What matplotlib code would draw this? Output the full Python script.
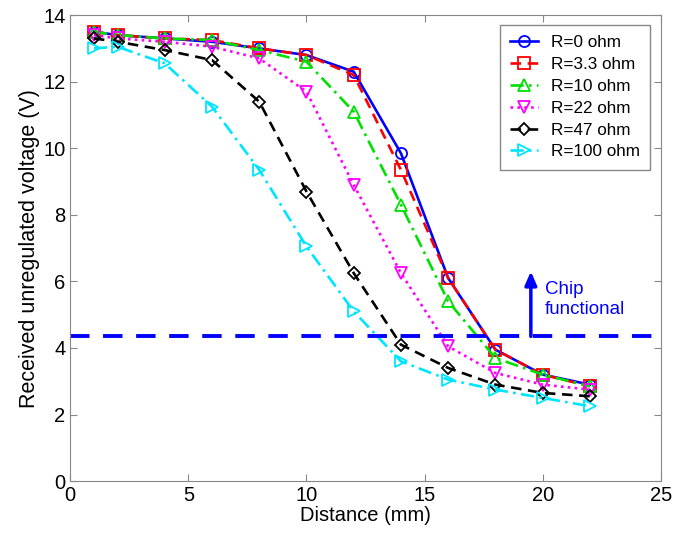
import numpy as np
import matplotlib
matplotlib.use("Agg")
import matplotlib.pyplot as plt

plt.rcParams['font.family'] = ['Liberation Sans', 'DejaVu Sans']

# distance (mm)
distance = [1, 2, 4, 6, 8, 10, 12, 14, 16, 18, 20, 22]

labels = ['R=0 ohm', 'R=3.3 ohm', 'R=10 ohm', 'R=22 ohm', 'R=47 ohm', 'R=100 ohm']
v_r0 = [13.5, 13.4, 13.3, 13.2, 13.0, 12.8, 12.3, 9.85, 6.1, 3.95, 3.2, 2.9]
v_r3 = [13.5, 13.4, 13.3, 13.25, 13.0, 12.8, 12.2, 9.35, 6.1, 3.95, 3.2, 2.85]
v_r10 = [13.5, 13.4, 13.3, 13.25, 12.95, 12.6, 11.1, 8.3, 5.4, 3.7, 3.2, 2.85]
v_r22 = [13.4, 13.3, 13.2, 13.05, 12.7, 11.7, 8.9, 6.25, 4.05, 3.25, 2.9, 2.75]
v_r47 = [13.3, 13.2, 12.95, 12.65, 11.4, 8.7, 6.25, 4.1, 3.4, 2.9, 2.65, 2.55]
v_r100 = [13.0, 13.05, 12.55, 11.25, 9.35, 7.05, 5.1, 3.6, 3.05, 2.75, 2.5, 2.25]

threshold = 4.35

series = [v_r0, v_r3, v_r10, v_r22, v_r47, v_r100]
colors = ['#0000ff', '#ff0000', '#00e000', '#ff00ff', '#000000', '#00e5ff']
styles = ['-', (0, (4, 2.5)), (0, (5, 2, 1, 2)), (0, (1, 1.6)), (0, (4, 2.5)), (0, (5, 2, 1, 2))]
markers = ['o', 's', '^', 'v', 'D', '>']

fig = plt.figure(figsize=(6.89, 5.40), dpi=100)
ax = fig.add_axes([0.102, 0.109, 0.857, 0.863])

for vals, lab, c, ls, m in zip(series, labels, colors, styles, markers):
    ms = 6 if m == 'D' else 8
    ax.plot(distance, vals, linestyle=ls, color=c, marker=m, markersize=ms,
            markerfacecolor='none', markeredgecolor=c, markeredgewidth=1.3,
            linewidth=1.9, label=lab)

ax.axhline(threshold, color='#0000ff', linestyle=(0, (5, 3.5)), linewidth=2.8)
ax.annotate('', xy=(19.5, 6.3), xytext=(19.5, threshold),
            arrowprops=dict(arrowstyle='-|>,head_width=0.35,head_length=0.8',
                            color='#0000ff', lw=2.5, shrinkA=0, shrinkB=0))
ax.text(20.1, 5.45, 'Chip\nfunctional', color='#0000ff', fontsize=13.5,
        ha='left', va='center', linespacing=1.25)

ax.set_xlim(0, 25)
ax.set_ylim(0, 14)
ax.set_xticks(np.arange(0, 26, 5))
ax.set_yticks(np.arange(0, 15, 2))
ax.tick_params(direction='in', top=True, right=True, labelsize=14.5,
               color='#888888', length=5)
for s in ax.spines.values():
    s.set_color('#888888')
ax.set_xlabel('Distance (mm)', fontsize=14.5, labelpad=1)
ax.set_ylabel('Received unregulated voltage (V)', fontsize=15.5, labelpad=2)

leg = ax.legend(loc='upper right', fontsize=12.3, handlelength=1.6,
                fancybox=False, framealpha=1, borderpad=0.6,
                labelspacing=0.4, handletextpad=0.8,
                bbox_to_anchor=(0.997, 0.997))
leg.get_frame().set_edgecolor('#888888')

fig.savefig('out.png', dpi=100)
